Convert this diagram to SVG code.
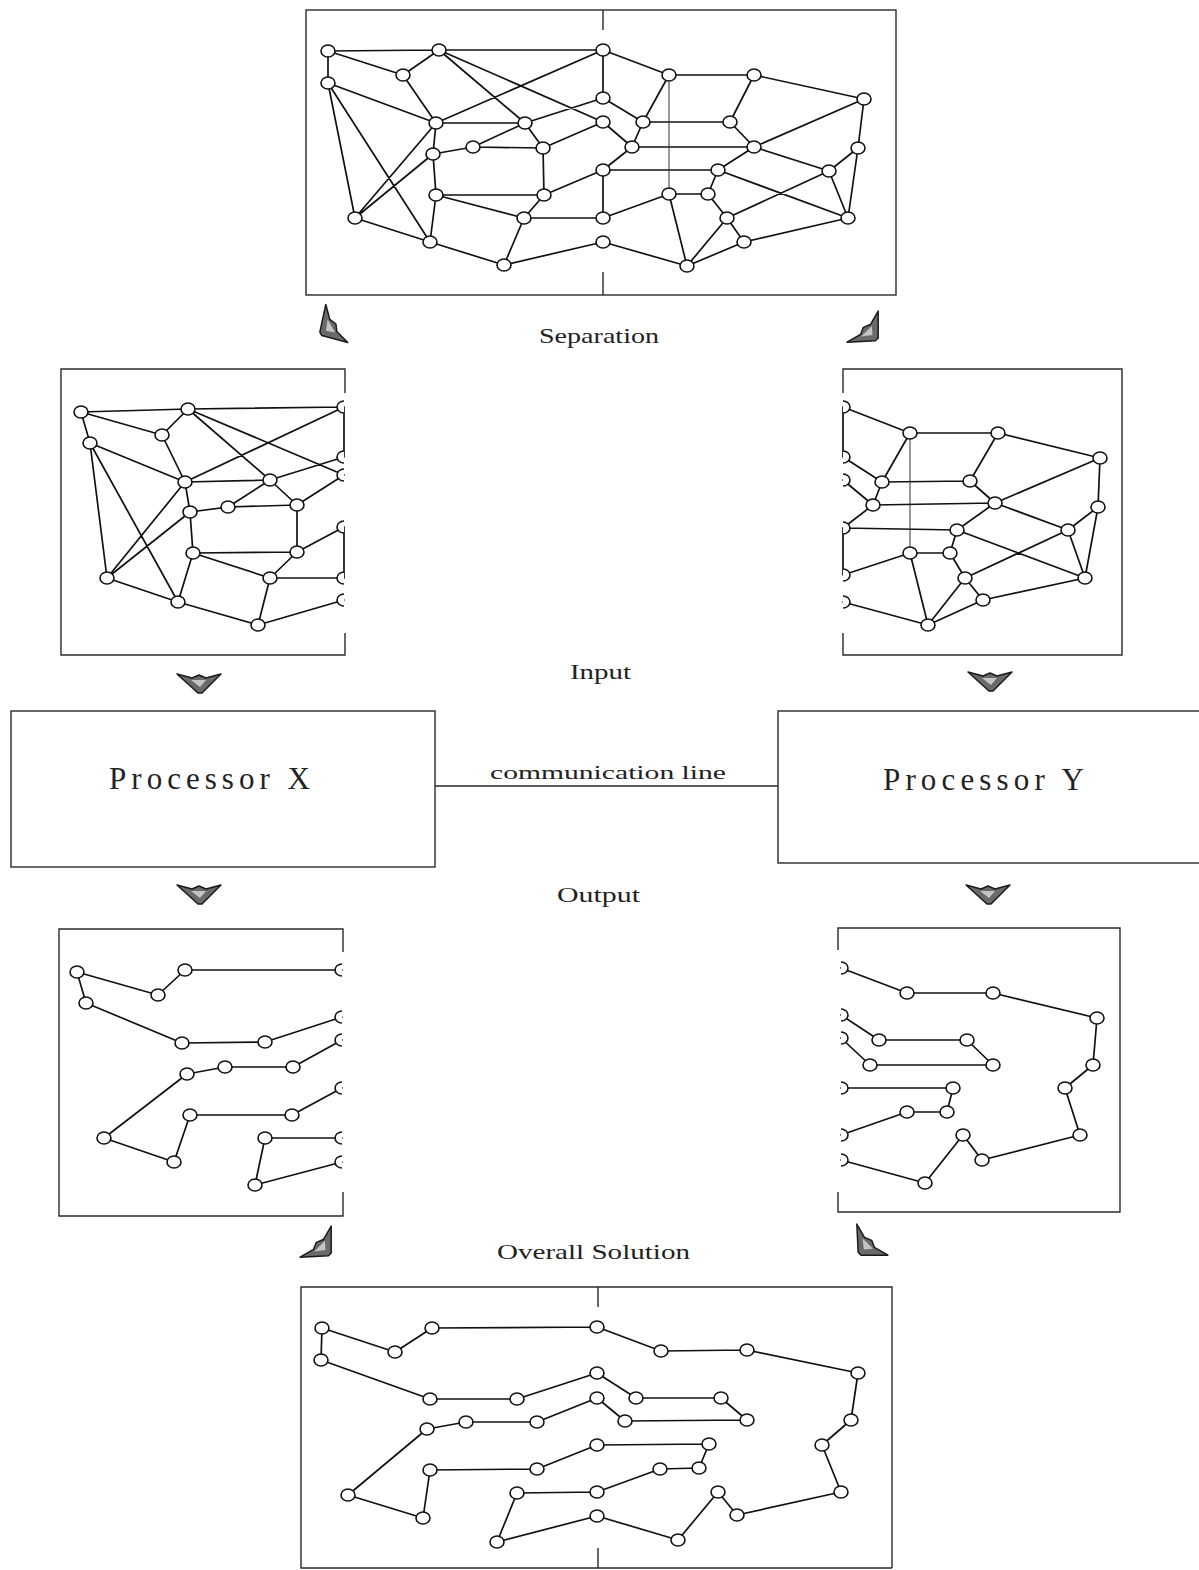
<svg xmlns="http://www.w3.org/2000/svg" xmlns:xlink="http://www.w3.org/1999/xlink" width="1199" height="1570" viewBox="0 0 1199 1570">
<style>
.bx{fill:none;stroke:#2a2a2a;stroke-width:1.4}
.e{fill:none;stroke:#111;stroke-width:1.7;stroke-linecap:round}
.th{fill:none;stroke:#333;stroke-width:1}
.n{fill:#fff;stroke:#111;stroke-width:1.6}
.lbl{font-family:"Liberation Serif","DejaVu Serif",serif;font-size:21px;fill:#222}
.proc{font-family:"Liberation Serif","DejaVu Serif",serif;font-size:31px;fill:#222}
.ar{fill:#6a6a6a;stroke:#1a1a1a;stroke-width:1.5;stroke-linejoin:round}
</style>
<defs>
<ellipse id="nd" class="n" cx="0" cy="0" rx="7" ry="6"/>
<path id="hl" class="n" d="M0,-6 A7,6 0 0 0 0,6"/>
<path id="hr" class="n" d="M0,-6 A7,6 0 0 1 0,6"/>
<g id="arw"><path class="ar" d="M-22,-9 L-7,-5 L0,-8 L7,-5 L22,-9 L3,10 L-1,10 Z"/><path d="M-8,-3 L7,-3 L1,4 Z" fill="#c4c4c4"/></g>
</defs>
<rect width="1199" height="1570" fill="#fff"/>

<!-- Top: full graph -->
<g id="full-graph">
<rect class="bx" x="306" y="10" width="590" height="285"/>
<path class="bx" d="M603 10V30M603 272V295"/>
<path class="e" d="M328 51L439 50M439 50L603 50M328 51L328 83M328 51L403 75M403 75L439 50M439 50L525 123M439 50L603 122M403 75L436 123M603 50L436 123M328 83L436 123M328 83L355 218M328 83L430 242M436 123L525 123M436 123L355 218M436 123L433 154M433 154L355 218M433 154L473 147M473 147L525 123M473 147L543 148M525 123L603 98M525 123L543 148M543 148L603 122M543 148L544 195M433 154L436 195M436 195L544 195M436 195L524 218M436 195L430 242M544 195L603 170M544 195L524 218M524 218L603 218M524 218L504 265M355 218L430 242M430 242L504 265M504 265L603 242M603 50L603 98M603 170L603 218M603 50L669 75M603 98L643 122M603 122L632 147M643 122L669 75M643 122L730 122M632 147L754 147M632 147L643 122M669 75L754 75M754 75L730 122M754 75L864 99M730 122L754 147M754 147L864 99M754 147L829 171M864 99L858 148M858 148L829 171M858 148L848 218M829 171L848 218M603 170L718 170M603 170L632 147M718 170L754 147M718 170L848 218M727 218L829 171M718 170L708 194M669 194L708 194M669 194L603 218M669 194L687 266M708 194L727 218M727 218L687 266M727 218L744 242M744 242L848 218M687 266L744 242M603 242L687 266"/>
<path class="th" d="M669 75L669 194"/>
<use href="#nd" x="328" y="51"/><use href="#nd" x="439" y="50"/><use href="#nd" x="603" y="50"/><use href="#nd" x="328" y="83"/><use href="#nd" x="403" y="75"/><use href="#nd" x="436" y="123"/><use href="#nd" x="603" y="98"/><use href="#nd" x="603" y="122"/><use href="#nd" x="525" y="123"/><use href="#nd" x="473" y="147"/><use href="#nd" x="433" y="154"/><use href="#nd" x="543" y="148"/><use href="#nd" x="603" y="170"/><use href="#nd" x="436" y="195"/><use href="#nd" x="544" y="195"/><use href="#nd" x="355" y="218"/><use href="#nd" x="524" y="218"/><use href="#nd" x="603" y="218"/><use href="#nd" x="430" y="242"/><use href="#nd" x="603" y="242"/><use href="#nd" x="504" y="265"/>
<use href="#nd" x="669" y="75"/><use href="#nd" x="754" y="75"/><use href="#nd" x="864" y="99"/><use href="#nd" x="643" y="122"/><use href="#nd" x="730" y="122"/><use href="#nd" x="632" y="147"/><use href="#nd" x="754" y="147"/><use href="#nd" x="858" y="148"/><use href="#nd" x="718" y="170"/><use href="#nd" x="829" y="171"/><use href="#nd" x="669" y="194"/><use href="#nd" x="708" y="194"/><use href="#nd" x="727" y="218"/><use href="#nd" x="848" y="218"/><use href="#nd" x="744" y="242"/><use href="#nd" x="687" y="266"/>
</g>

<g id="label-separation"><text class="lbl" x="539" y="343" textLength="120" lengthAdjust="spacingAndGlyphs">Separation</text></g>

<!-- Left input -->
<g id="input-x">
<path class="bx" d="M345 393V369H61V655H345V633"/>
<path class="e" d="M81 412L188 409M188 409L344 407M81 412L90 443M81 412L162 435M162 435L188 409M188 409L270 480M188 409L344 475M162 435L185 482M344 407L185 482M90 443L185 482M90 443L107 578M90 443L178 602M185 482L270 480M185 482L107 578M185 482L190 512M190 512L107 578M190 512L228 507M228 507L270 480M228 507L297 505M270 480L344 457M270 480L297 505M297 505L344 475M297 505L297 552M190 512L193 553M193 553L297 552M193 553L270 578M193 553L178 602M297 552L344 527M297 552L270 578M270 578L344 578M270 578L258 625M107 578L178 602M178 602L258 625M258 625L344 600M344 407L344 457M344 527L344 578"/>
<use href="#nd" x="81" y="412"/><use href="#nd" x="188" y="409"/><use href="#hl" x="344" y="407"/><use href="#nd" x="90" y="443"/><use href="#nd" x="162" y="435"/><use href="#nd" x="185" y="482"/><use href="#hl" x="344" y="457"/><use href="#hl" x="344" y="475"/><use href="#nd" x="270" y="480"/><use href="#nd" x="228" y="507"/><use href="#nd" x="190" y="512"/><use href="#nd" x="297" y="505"/><use href="#hl" x="344" y="527"/><use href="#nd" x="193" y="553"/><use href="#nd" x="297" y="552"/><use href="#nd" x="107" y="578"/><use href="#nd" x="270" y="578"/><use href="#hl" x="344" y="578"/><use href="#nd" x="178" y="602"/><use href="#hl" x="344" y="600"/><use href="#nd" x="258" y="625"/>
</g>

<!-- Right input -->
<g id="input-y">
<path class="bx" d="M843 393V369H1122V655H843V633"/>
<path class="e" d="M843 407L910 433M843 407L843 457M843 457L882 482M843 480L873 505M882 482L910 433M882 482L970 481M873 505L995 503M873 505L882 482M910 433L998 433M998 433L970 481M998 433L1100 458M970 481L995 503M995 503L1100 458M995 503L1068 530M1100 458L1098 507M1098 507L1068 530M1098 507L1085 578M1068 530L1085 578M843 528L957 530M843 528L873 505M843 528L843 575M957 530L995 503M957 530L1085 578M965 578L1068 530M957 530L950 553M910 553L950 553M910 553L843 575M910 553L928 625M950 553L965 578M965 578L928 625M965 578L983 600M983 600L1085 578M928 625L983 600M843 602L928 625"/>
<path class="th" d="M910 433L910 553"/>
<use href="#hr" x="843" y="407"/><use href="#nd" x="910" y="433"/><use href="#nd" x="998" y="433"/><use href="#nd" x="1100" y="458"/><use href="#hr" x="843" y="457"/><use href="#nd" x="882" y="482"/><use href="#nd" x="970" y="481"/><use href="#hr" x="843" y="480"/><use href="#nd" x="873" y="505"/><use href="#nd" x="995" y="503"/><use href="#nd" x="1098" y="507"/><use href="#hr" x="843" y="528"/><use href="#nd" x="957" y="530"/><use href="#nd" x="1068" y="530"/><use href="#nd" x="910" y="553"/><use href="#nd" x="950" y="553"/><use href="#hr" x="843" y="575"/><use href="#nd" x="965" y="578"/><use href="#nd" x="1085" y="578"/><use href="#hr" x="843" y="602"/><use href="#nd" x="983" y="600"/><use href="#nd" x="928" y="625"/>
</g>

<g id="label-input"><text class="lbl" x="570" y="679" textLength="61" lengthAdjust="spacingAndGlyphs">Input</text></g>

<g id="processor-x">
<rect class="bx" x="11" y="711" width="424" height="156"/>
<text class="proc" x="109" y="789" textLength="201" lengthAdjust="spacing">Processor X</text>
</g>
<g id="processor-y">
<rect class="bx" x="778" y="711" width="440" height="152"/>
<text class="proc" x="883" y="790" textLength="201" lengthAdjust="spacing">Processor Y</text>
</g>

<g id="label-output"><text class="lbl" x="557" y="902" textLength="83" lengthAdjust="spacingAndGlyphs">Output</text></g>

<!-- Left output -->
<g id="output-x">
<path class="bx" d="M343 952V929H59V1216H343V1192"/>
<path class="e" d="M77 972L86 1003M77 972L158 995M158 995L185 970M185 970L342 970M86 1003L182 1043M182 1043L265 1042M265 1042L342 1017M187 1074L225 1067M225 1067L293 1067M293 1067L342 1040M187 1074L104 1138M104 1138L174 1162M174 1162L190 1115M190 1115L292 1115M292 1115L342 1088M265 1138L342 1138M265 1138L255 1185M255 1185L342 1162"/>
<use href="#nd" x="77" y="972"/><use href="#nd" x="185" y="970"/><use href="#hl" x="342" y="970"/><use href="#nd" x="158" y="995"/><use href="#nd" x="86" y="1003"/><use href="#hl" x="342" y="1017"/><use href="#nd" x="182" y="1043"/><use href="#nd" x="265" y="1042"/><use href="#hl" x="342" y="1040"/><use href="#nd" x="187" y="1074"/><use href="#nd" x="225" y="1067"/><use href="#nd" x="293" y="1067"/><use href="#hl" x="342" y="1088"/><use href="#nd" x="190" y="1115"/><use href="#nd" x="292" y="1115"/><use href="#nd" x="104" y="1138"/><use href="#nd" x="265" y="1138"/><use href="#hl" x="342" y="1138"/><use href="#nd" x="174" y="1162"/><use href="#hl" x="342" y="1162"/><use href="#nd" x="255" y="1185"/>
</g>

<!-- Right output -->
<g id="output-y">
<path class="bx" d="M838 950V928H1120V1212H838V1192"/>
<path class="e" d="M841 968L907 993M907 993L993 993M993 993L1097 1018M1097 1018L1093 1065M1093 1065L1065 1088M1065 1088L1080 1135M1080 1135L982 1160M982 1160L963 1135M963 1135L925 1183M925 1183L841 1160M841 1015L879 1040M879 1040L967 1040M967 1040L993 1065M993 1065L870 1065M870 1065L841 1038M841 1088L953 1088M953 1088L947 1112M947 1112L907 1112M907 1112L841 1135"/>
<use href="#hr" x="841" y="968"/><use href="#nd" x="907" y="993"/><use href="#nd" x="993" y="993"/><use href="#nd" x="1097" y="1018"/><use href="#hr" x="841" y="1015"/><use href="#nd" x="879" y="1040"/><use href="#nd" x="967" y="1040"/><use href="#hr" x="841" y="1038"/><use href="#nd" x="870" y="1065"/><use href="#nd" x="993" y="1065"/><use href="#nd" x="1093" y="1065"/><use href="#nd" x="1065" y="1088"/><use href="#hr" x="841" y="1088"/><use href="#nd" x="953" y="1088"/><use href="#nd" x="907" y="1112"/><use href="#nd" x="947" y="1112"/><use href="#hr" x="841" y="1135"/><use href="#nd" x="963" y="1135"/><use href="#nd" x="1080" y="1135"/><use href="#nd" x="982" y="1160"/><use href="#hr" x="841" y="1160"/><use href="#nd" x="925" y="1183"/>
</g>

<g id="label-overall"><text class="lbl" x="497" y="1259" textLength="193" lengthAdjust="spacingAndGlyphs">Overall Solution</text></g>

<!-- Overall solution -->
<g id="overall-solution">
<path class="bx" d="M892 1568H301V1287H892V1568"/>
<path class="bx" d="M598 1287V1307M598 1548V1568"/>
<path class="e" d="M322 1328L321 1360M322 1328L395 1352M395 1352L432 1328M432 1328L597 1327M597 1327L661 1351M661 1351L747 1350M747 1350L858 1373M858 1373L851 1420M851 1420L822 1445M822 1445L841 1492M841 1492L737 1515M737 1515L718 1492M718 1492L678 1540M678 1540L597 1516M597 1516L497 1542M497 1542L517 1493M517 1493L597 1492M321 1360L430 1399M430 1399L517 1399M517 1399L597 1373M597 1373L636 1398M636 1398L721 1398M721 1398L747 1420M747 1420L625 1421M625 1421L597 1398M597 1398L537 1422M537 1422L466 1422M466 1422L427 1429M427 1429L348 1495M348 1495L423 1518M423 1518L430 1470M430 1470L537 1469M537 1469L597 1445M597 1445L709 1444M709 1444L699 1468M699 1468L660 1469M660 1469L597 1492"/>
<use href="#nd" x="322" y="1328"/><use href="#nd" x="432" y="1328"/><use href="#nd" x="597" y="1327"/><use href="#nd" x="395" y="1352"/><use href="#nd" x="321" y="1360"/><use href="#nd" x="597" y="1373"/><use href="#nd" x="430" y="1399"/><use href="#nd" x="517" y="1399"/><use href="#nd" x="597" y="1398"/><use href="#nd" x="427" y="1429"/><use href="#nd" x="466" y="1422"/><use href="#nd" x="537" y="1422"/><use href="#nd" x="597" y="1445"/><use href="#nd" x="430" y="1470"/><use href="#nd" x="537" y="1469"/><use href="#nd" x="348" y="1495"/><use href="#nd" x="517" y="1493"/><use href="#nd" x="597" y="1492"/><use href="#nd" x="423" y="1518"/><use href="#nd" x="597" y="1516"/><use href="#nd" x="497" y="1542"/>
<use href="#nd" x="661" y="1351"/><use href="#nd" x="747" y="1350"/><use href="#nd" x="858" y="1373"/><use href="#nd" x="636" y="1398"/><use href="#nd" x="721" y="1398"/><use href="#nd" x="625" y="1421"/><use href="#nd" x="747" y="1420"/><use href="#nd" x="851" y="1420"/><use href="#nd" x="822" y="1445"/><use href="#nd" x="709" y="1444"/><use href="#nd" x="660" y="1469"/><use href="#nd" x="699" y="1468"/><use href="#nd" x="718" y="1492"/><use href="#nd" x="841" y="1492"/><use href="#nd" x="737" y="1515"/><use href="#nd" x="678" y="1540"/>
</g>

<!-- Connectors -->
<g id="connectors">
<line class="bx" x1="435" y1="786" x2="778" y2="786"/>
<text class="lbl" x="490" y="779" textLength="236" lengthAdjust="spacingAndGlyphs" style="font-size:19px">communication line</text>
<use href="#arw" transform="translate(329,328) rotate(60)"/>
<use href="#arw" transform="translate(869,333) rotate(-45)"/>
<use href="#arw" transform="translate(199,683)"/>
<use href="#arw" transform="translate(990,681)"/>
<use href="#arw" transform="translate(199,894)"/>
<use href="#arw" transform="translate(988,894)"/>
<use href="#arw" transform="translate(322,1248) rotate(-45)"/>
<use href="#arw" transform="translate(866,1246) rotate(45)"/>
</g>
</svg>
